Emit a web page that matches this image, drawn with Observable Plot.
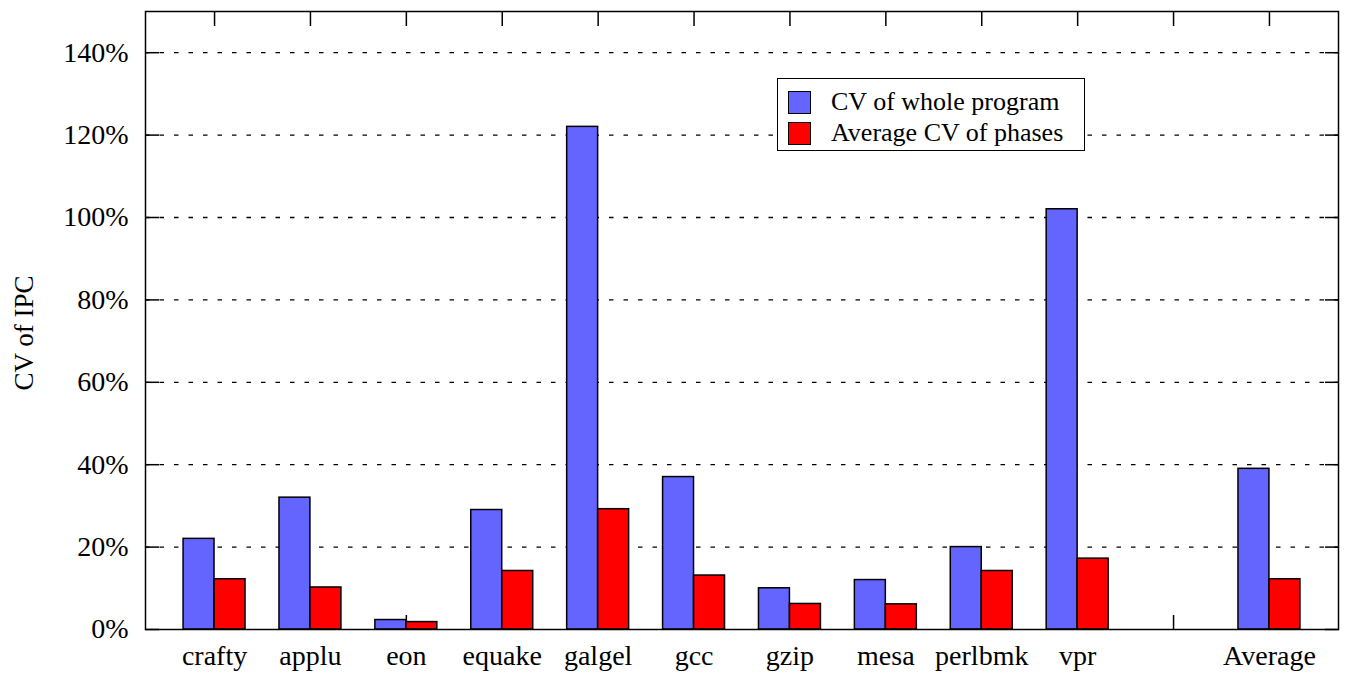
<!DOCTYPE html>
<html>
<head>
<meta charset="utf-8">
<script src="https://cdn.jsdelivr.net/npm/d3@7"></script>
<script src="https://cdn.jsdelivr.net/npm/@observablehq/plot@0.6"></script>
<style>
  html, body { margin: 0; padding: 0; background: #fff; }
  #wrap { position: relative; width: 1348px; height: 673px; font-family: "Liberation Serif", "Times New Roman", serif; }
  #ylabel { position: absolute; left: 24px; top: 333px; transform: translate(-50%, -50%) rotate(-90deg); font-size: 27px; white-space: nowrap; color: #000; }
  #legend { position: absolute; left: 777px; top: 78px; width: 306px; height: 71px; border: 1.5px solid #000; background: #fff; box-sizing: content-box; }
  .item { position: absolute; left: 10px; display: flex; align-items: center; font-size: 26px; color: #000; white-space: nowrap; }
  .sw { width: 21px; height: 21px; border: 1.5px solid #000; margin-right: 20px; }
</style>
</head>
<body>
<div id="wrap">
  <div id="ylabel">CV of IPC</div>
</div>
<script>
const categories = ["crafty", "applu", "eon", "equake", "galgel", "gcc", "gzip", "mesa", "perlbmk", "vpr", "", "Average"];
const wholeProgram = [22, 32, 2.3, 29, 122, 37, 10, 12, 20, 102, null, 39];
const phasesAvg = [12.2, 10.2, 1.8, 14.2, 29.2, 13.1, 6.2, 6.1, 14.2, 17.2, null, 12.2];
const seriesNames = ["CV of whole program", "Average CV of phases"];
const seriesColors = ["#6464ff", "#ff0000"];
const yTicks = [0, 20, 40, 60, 80, 100, 120, 140];
const gridTicks = [20, 40, 60, 80, 100, 120, 140];

const rows = categories
  .map((c, i) => ({category: c, whole: wholeProgram[i], phases: phasesAvg[i]}))
  .filter(d => d.whole != null);

const chart = Plot.plot({
  width: 1348,
  height: 673,
  marginLeft: 145,
  marginRight: 10,
  marginTop: 11,
  marginBottom: 44,
  style: {fontFamily: '"Liberation Serif", "Times New Roman", serif', fontSize: "28px", color: "#000", background: "transparent", overflow: "visible"},
  x: {domain: categories, paddingInner: 0.354, paddingOuter: 0.397, align: 0.5, round: false},
  y: {domain: [0, 150]},
  marks: [
    Plot.ruleY(gridTicks, {y: d => d, stroke: "#000", strokeWidth: 1.3, strokeDasharray: "4.5,10"}),
    Plot.axisX({anchor: "bottom", ticks: categories, tickSize: -14, tickFormat: () => "", label: null, strokeWidth: 1.5}),
    Plot.axisX({anchor: "top", ticks: categories, tickSize: -14, tickFormat: () => "", label: null, strokeWidth: 1.5}),
    Plot.axisY({anchor: "left", ticks: yTicks, tickSize: -14, tickFormat: () => "", label: null, strokeWidth: 1.5}),
    Plot.axisY({anchor: "right", ticks: yTicks, tickSize: -14, tickFormat: () => "", label: null, strokeWidth: 1.5}),
    Plot.axisX({anchor: "bottom", ticks: categories, tickSize: 0, tickPadding: 16, label: null, fontSize: 28}),
    Plot.axisY({anchor: "left", ticks: yTicks, tickSize: 0, tickPadding: 17, tickFormat: d => `${d}%`, label: null, fontSize: 28}),
    Plot.barY(rows, {x: "category", y: "whole", fill: seriesColors[0], stroke: "#000", strokeWidth: 1.5, insetLeft: 0, insetRight: 31}),
    Plot.barY(rows, {x: "category", y: "phases", fill: seriesColors[1], stroke: "#000", strokeWidth: 1.5, insetLeft: 31, insetRight: 0}),
    Plot.frame({stroke: "#000", strokeWidth: 1.5})
  ]
});
const wrap = document.getElementById("wrap");
wrap.insertBefore(chart, wrap.firstChild);

const legend = document.createElement("div");
legend.id = "legend";
seriesNames.forEach((name, i) => {
  const item = document.createElement("div");
  item.className = "item";
  item.style.top = (i === 0 ? 8 : 39) + "px";
  const sw = document.createElement("div");
  sw.className = "sw";
  sw.style.background = seriesColors[i];
  const t = document.createElement("span");
  t.textContent = name;
  item.appendChild(sw);
  item.appendChild(t);
  legend.appendChild(item);
});
wrap.appendChild(legend);
</script>
</body>
</html>
